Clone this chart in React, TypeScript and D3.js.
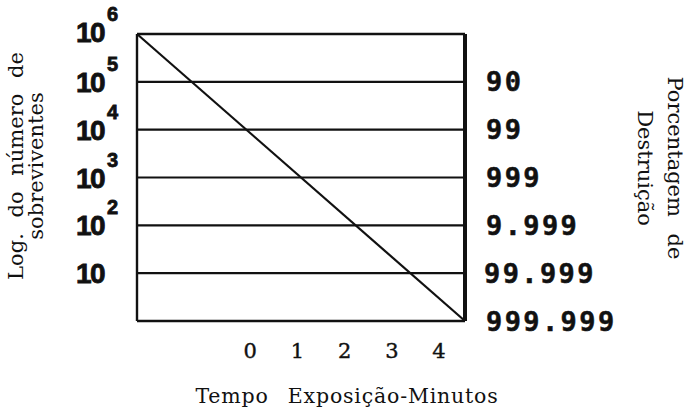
import { useEffect, useRef } from 'react';
import * as d3 from 'd3';

// log10 of survivor count shown on the left axis, and the matching % destruction on the right
const logTicks = [6, 5, 4, 3, 2, 1];
const destructionLogs = [5, 4, 3, 2, 1, 0];
const destructionLabels = ['90', '99', '999', '9.999', '99.999', '999.999'];
const gridLogs = [5, 4, 3, 2, 1];

// exposure time ticks (minutes)
const timeTicks = [0, 1, 2, 3, 4];

// survivor curve: time (min) vs log10 survivors
const curveTime = [-2.4, 4.55];
const curveLog = [6, 0];

export default function App() {
  const svgRef = useRef<SVGSVGElement>(null);

  useEffect(() => {
    document.body.style.margin = '0';
    if (!svgRef.current) return;
    const svg = d3.select(svgRef.current);
    svg.selectAll('*').remove();

    const W = 689, H = 411;
    const margin = { top: 34, right: 224, bottom: 90, left: 137 };
    svg.attr('width', W).attr('height', H);

    const x = d3.scaleLinear()
      .domain(d3.extent(curveTime) as [number, number])
      .range([margin.left, W - margin.right]);
    const y = d3.scaleLinear()
      .domain([0, 6])
      .range([H - margin.bottom, margin.top]);

    const serif = '"DejaVu Serif", "Liberation Serif", serif';
    const ink = '#111';

    // horizontal gridlines
    svg.append('g')
      .selectAll('line')
      .data(gridLogs)
      .enter().append('line')
      .attr('x1', x.range()[0]).attr('x2', x.range()[1] + 2)
      .attr('y1', d => y(d)).attr('y2', d => y(d))
      .attr('stroke', ink).attr('stroke-width', 2.2);

    // frame
    const [x0, x1] = x.range();
    const [yb, yt] = y.range();
    svg.append('line').attr('x1', x0).attr('x2', x1).attr('y1', yt).attr('y2', yt)
      .attr('stroke', ink).attr('stroke-width', 2.4);
    svg.append('line').attr('x1', x0).attr('x2', x1).attr('y1', yb).attr('y2', yb)
      .attr('stroke', ink).attr('stroke-width', 2.6);
    svg.append('line').attr('x1', x0).attr('x2', x0).attr('y1', yt).attr('y2', yb)
      .attr('stroke', ink).attr('stroke-width', 2.4);
    svg.append('line').attr('x1', x1).attr('x2', x1).attr('y1', yt).attr('y2', yb)
      .attr('stroke', ink).attr('stroke-width', 4);

    // survivor curve
    const line = d3.line<number>()
      .x((_, i) => x(curveTime[i]))
      .y(d => y(d));
    svg.append('path')
      .datum(curveLog)
      .attr('d', line)
      .attr('fill', 'none')
      .attr('stroke', ink)
      .attr('stroke-width', 2.2);

    // left tick labels 10^n
    const left = svg.append('g')
      .attr('font-family', '"Liberation Sans", Arial, sans-serif')
      .attr('font-weight', 'bold')
      .attr('fill', ink)
      .attr('stroke', ink)
      .attr('stroke-width', 0.8);
    logTicks.forEach(k => {
      const ty = y(k) + (k === 6 ? -2 : 0);
      left.append('text')
        .attr('x', 76).attr('y', ty + 10)
        .attr('font-size', 28)
        .attr('letter-spacing', -1.5)
        .text('10');
      if (k > 1) {
        left.append('text')
          .attr('x', 107).attr('y', ty - 11)
          .attr('font-size', 20)
          .text(String(k));
      }
    });

    // right tick labels (% destruction)
    svg.append('g')
      .selectAll('text')
      .data(destructionLogs)
      .enter().append('text')
      .attr('x', (_, i) => (i === 4 ? 484 : 486))
      .attr('y', d => y(d))
      .attr('dominant-baseline', 'central')
      .attr('font-family', '"DejaVu Sans Mono", monospace')
      .attr('font-weight', 'bold')
      .attr('font-size', 27)
      .attr('letter-spacing', 2.4)
      .attr('fill', ink)
      .attr('stroke', ink)
      .attr('stroke-width', 0.5)
      .text((_, i) => destructionLabels[i]);

    // bottom tick labels
    svg.append('g')
      .selectAll('text')
      .data(timeTicks)
      .enter().append('text')
      .attr('x', d => x(d))
      .attr('y', 358)
      .attr('text-anchor', 'middle')
      .attr('font-family', serif)
      .attr('font-size', 21)
      .attr('fill', ink)
      .attr('stroke', ink)
      .attr('stroke-width', 0.4)
      .text(d => String(d));

    svg.append('text')
      .attr('x', 347).attr('y', 403)
      .attr('text-anchor', 'middle')
      .attr('font-family', serif)
      .attr('font-size', 20.5)
      .attr('letter-spacing', 0.8)
      .attr('word-spacing', 12)
      .attr('fill', ink)
      .text('Tempo Exposição-Minutos');

    // left axis title
    const lt = svg.append('text')
      .attr('transform', 'translate(23,166) rotate(-90)')
      .attr('text-anchor', 'middle')
      .attr('font-family', serif)
      .attr('font-size', 21)
      .attr('fill', ink);
    lt.append('tspan').attr('x', 0).attr('dy', 0).attr('word-spacing', 9).text('Log. do número de');
    lt.append('tspan').attr('x', 0).attr('dy', 20).text('sobreviventes');

    // right axis title
    const rt = svg.append('text')
      .attr('transform', 'translate(668,168) rotate(90)')
      .attr('text-anchor', 'middle')
      .attr('font-family', serif)
      .attr('font-size', 21)
      .attr('fill', ink);
    rt.append('tspan').attr('x', 0).attr('dy', 0).attr('word-spacing', 10).text('Porcentagem de');
    rt.append('tspan').attr('x', 0).attr('dy', 30).text('Destruição');
  }, []);

  return (
    <div style={{ width: 689, height: 411, background: '#fff' }}>
      <svg ref={svgRef} style={{ display: 'block' }} />
    </div>
  );
}
